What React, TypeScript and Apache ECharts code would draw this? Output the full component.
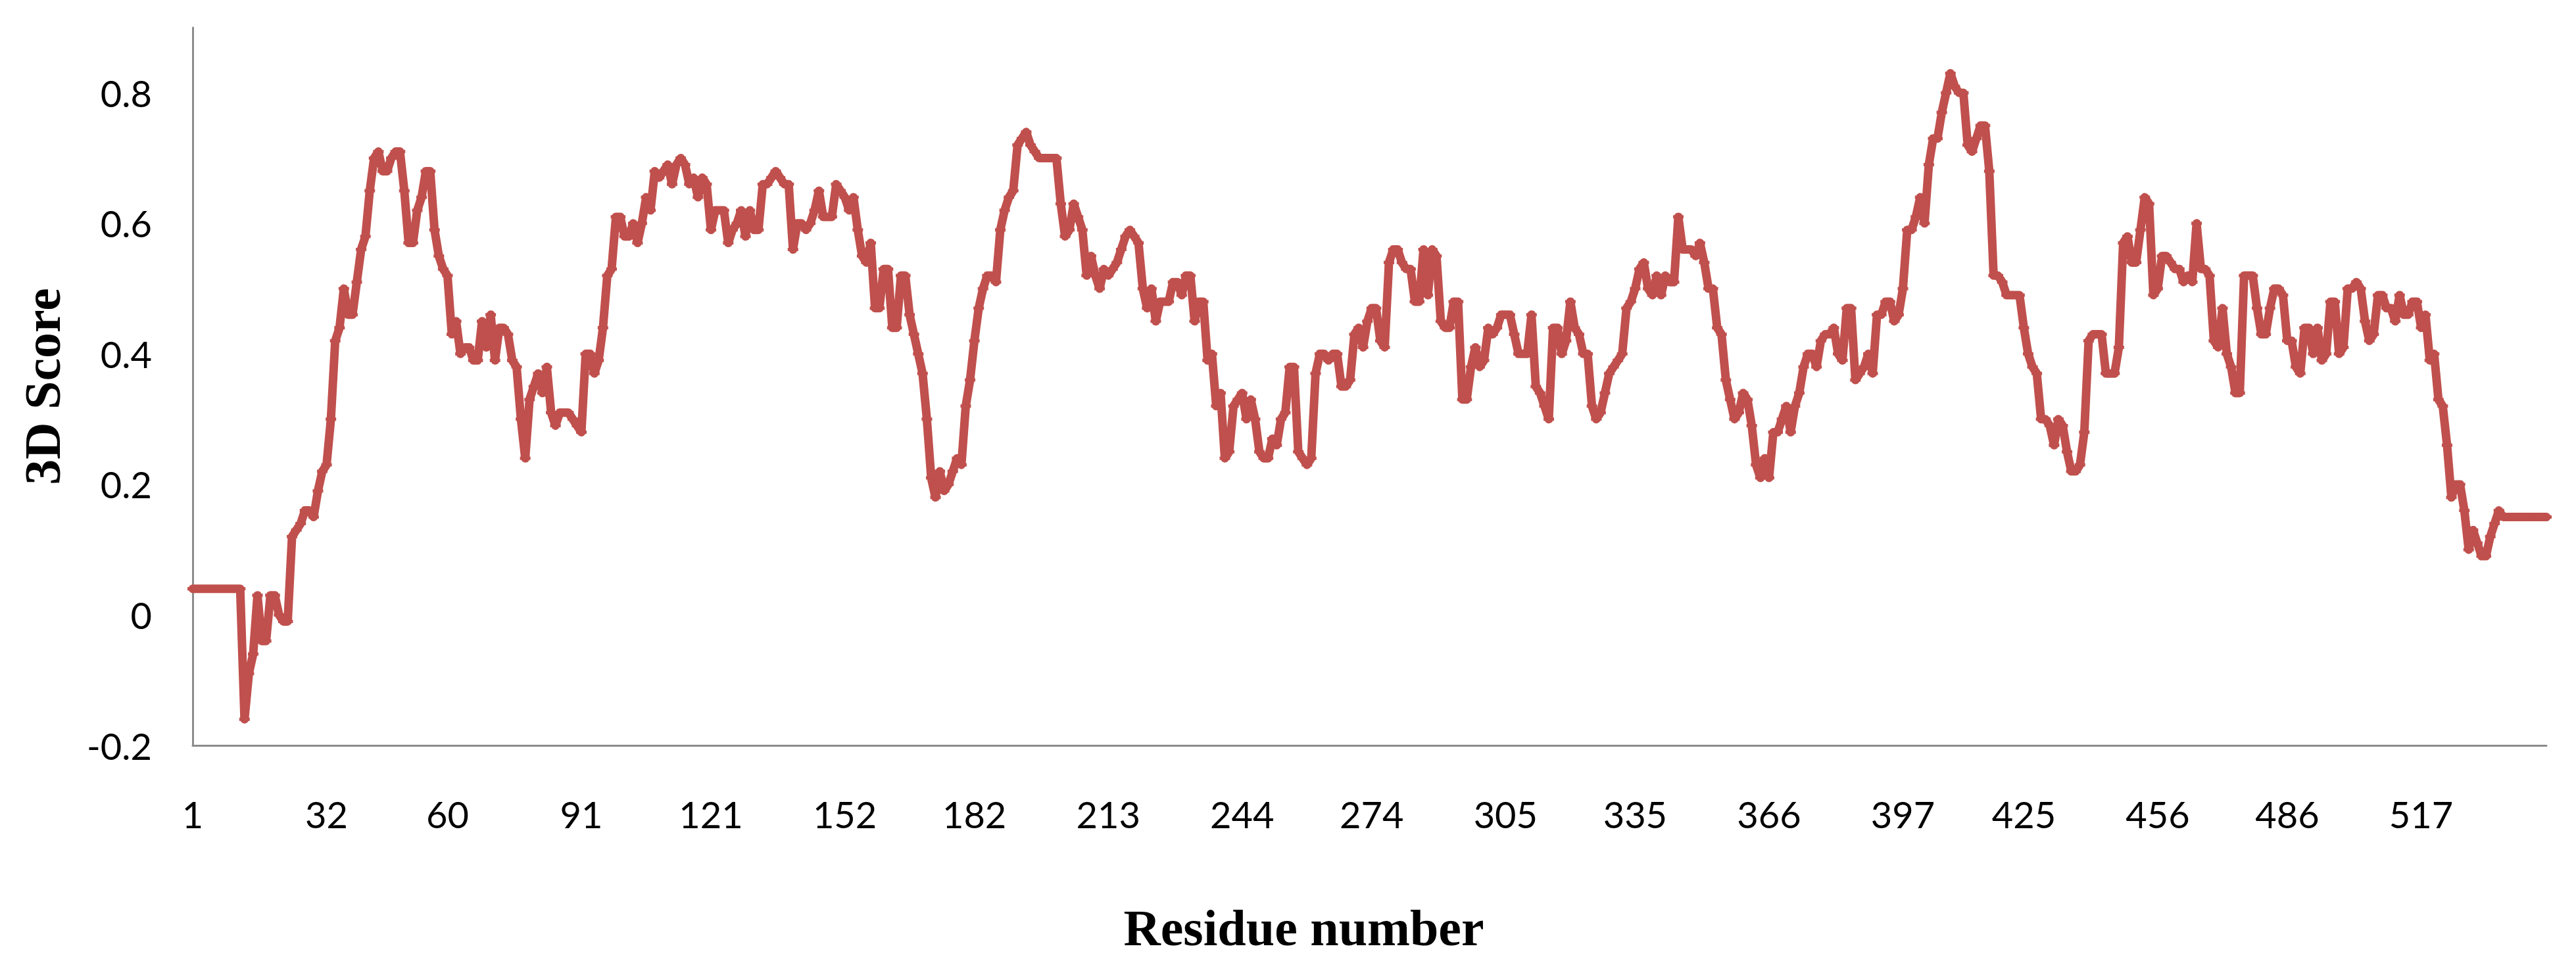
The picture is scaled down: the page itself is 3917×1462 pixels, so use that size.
import React, { useEffect, useRef } from "react";
import * as echarts from "echarts";

// 3D score per residue (residues 1..546)
const scores001to100 = [
  0.04, 0.04, 0.04, 0.04, 0.04, 0.04, 0.04, 0.04, 0.04, 0.04,
  0.04, 0.04, -0.16, -0.09, -0.06, 0.03, -0.04, -0.04, 0.03, 0.03,
  0.0, -0.01, -0.01, 0.12, 0.13, 0.14, 0.16, 0.16, 0.15, 0.19,
  0.22, 0.23, 0.3, 0.42, 0.44, 0.5, 0.46, 0.46, 0.51, 0.56,
  0.58, 0.65, 0.7, 0.71, 0.68, 0.68, 0.7, 0.71, 0.71, 0.65,
  0.57, 0.57, 0.62, 0.64, 0.68, 0.68, 0.59, 0.55, 0.53, 0.52,
  0.43, 0.45, 0.4, 0.41, 0.41, 0.39, 0.39, 0.45, 0.41, 0.46,
  0.39, 0.44, 0.44, 0.43, 0.39, 0.38, 0.3, 0.24, 0.33, 0.35,
  0.37, 0.34, 0.38, 0.31, 0.29, 0.31, 0.31, 0.31, 0.3, 0.29,
  0.28, 0.4, 0.4, 0.37, 0.39, 0.44, 0.52, 0.53, 0.61, 0.61,
];
const scores101to200 = [
  0.58, 0.58, 0.6, 0.57, 0.6, 0.64, 0.62, 0.68, 0.67, 0.68,
  0.69, 0.66, 0.69, 0.7, 0.69, 0.66, 0.67, 0.64, 0.67, 0.66,
  0.59, 0.62, 0.62, 0.62, 0.57, 0.59, 0.6, 0.62, 0.58, 0.62,
  0.59, 0.59, 0.66, 0.66, 0.67, 0.68, 0.67, 0.66, 0.66, 0.56,
  0.6, 0.6, 0.59, 0.6, 0.62, 0.65, 0.61, 0.61, 0.61, 0.66,
  0.65, 0.64, 0.62, 0.64, 0.59, 0.55, 0.54, 0.57, 0.47, 0.47,
  0.53, 0.53, 0.44, 0.44, 0.52, 0.52, 0.46, 0.43, 0.4, 0.37,
  0.3, 0.21, 0.18, 0.22, 0.19, 0.2, 0.22, 0.24, 0.23, 0.32,
  0.36, 0.42, 0.47, 0.5, 0.52, 0.52, 0.51, 0.59, 0.62, 0.64,
  0.65, 0.72, 0.73, 0.74, 0.72, 0.71, 0.7, 0.7, 0.7, 0.7,
];
const scores201to300 = [
  0.7, 0.63, 0.58, 0.59, 0.63, 0.61, 0.59, 0.52, 0.55, 0.52,
  0.5, 0.53, 0.52, 0.53, 0.54, 0.56, 0.58, 0.59, 0.58, 0.57,
  0.5, 0.47, 0.5, 0.45, 0.48, 0.48, 0.48, 0.51, 0.51, 0.49,
  0.52, 0.52, 0.45, 0.48, 0.48, 0.39, 0.4, 0.32, 0.34, 0.24,
  0.25, 0.32, 0.33, 0.34, 0.3, 0.33, 0.3, 0.25, 0.24, 0.24,
  0.27, 0.26, 0.3, 0.31, 0.38, 0.38, 0.25, 0.24, 0.23, 0.24,
  0.37, 0.4, 0.4, 0.39, 0.4, 0.4, 0.35, 0.35, 0.36, 0.43,
  0.44, 0.41, 0.45, 0.47, 0.47, 0.42, 0.41, 0.54, 0.56, 0.56,
  0.54, 0.53, 0.53, 0.48, 0.48, 0.56, 0.49, 0.56, 0.55, 0.45,
  0.44, 0.44, 0.48, 0.48, 0.33, 0.33, 0.38, 0.41, 0.38, 0.39,
];
const scores301to400 = [
  0.44, 0.43, 0.44, 0.46, 0.46, 0.46, 0.43, 0.4, 0.4, 0.4,
  0.46, 0.35, 0.34, 0.32, 0.3, 0.44, 0.44, 0.4, 0.42, 0.48,
  0.44, 0.43, 0.4, 0.4, 0.32, 0.3, 0.31, 0.34, 0.37, 0.38,
  0.39, 0.4, 0.47, 0.48, 0.5, 0.53, 0.54, 0.5, 0.49, 0.52,
  0.49, 0.52, 0.51, 0.51, 0.61, 0.56, 0.56, 0.56, 0.55, 0.57,
  0.54, 0.5, 0.5, 0.44, 0.43, 0.36, 0.33, 0.3, 0.31, 0.34,
  0.33, 0.29, 0.23, 0.21, 0.24, 0.21, 0.28, 0.28, 0.3, 0.32,
  0.28, 0.32, 0.34, 0.38, 0.4, 0.4, 0.38, 0.42, 0.43, 0.43,
  0.44, 0.4, 0.39, 0.47, 0.47, 0.36, 0.37, 0.38, 0.4, 0.37,
  0.46, 0.46, 0.48, 0.48, 0.45, 0.46, 0.5, 0.59, 0.59, 0.61,
];
const scores401to500 = [
  0.64, 0.6, 0.69, 0.73, 0.73, 0.77, 0.8, 0.83, 0.81, 0.8,
  0.8, 0.72, 0.71, 0.73, 0.75, 0.75, 0.68, 0.52, 0.52, 0.51,
  0.49, 0.49, 0.49, 0.49, 0.44, 0.4, 0.38, 0.37, 0.3, 0.3,
  0.29, 0.26, 0.3, 0.29, 0.25, 0.22, 0.22, 0.23, 0.28, 0.42,
  0.43, 0.43, 0.43, 0.37, 0.37, 0.37, 0.41, 0.57, 0.58, 0.54,
  0.54, 0.59, 0.64, 0.63, 0.49, 0.5, 0.55, 0.55, 0.54, 0.53,
  0.53, 0.51, 0.52, 0.51, 0.6, 0.53, 0.53, 0.52, 0.42, 0.41,
  0.47, 0.4, 0.38, 0.34, 0.34, 0.52, 0.52, 0.52, 0.47, 0.43,
  0.43, 0.47, 0.5, 0.5, 0.49, 0.42, 0.42, 0.38, 0.37, 0.44,
  0.44, 0.4, 0.44, 0.39, 0.4, 0.48, 0.48, 0.4, 0.41, 0.5,
];
const scores501to546 = [
  0.5, 0.51, 0.5, 0.45, 0.42, 0.43, 0.49, 0.49, 0.47, 0.47,
  0.45, 0.49, 0.46, 0.46, 0.48, 0.48, 0.44, 0.46, 0.39, 0.4,
  0.33, 0.32, 0.26, 0.18, 0.2, 0.2, 0.16, 0.1, 0.13, 0.11,
  0.09, 0.09, 0.12, 0.14, 0.16, 0.15, 0.15, 0.15, 0.15, 0.15,
  0.15, 0.15, 0.15, 0.15, 0.15, 0.15,
];

// residue numbers shown as tick labels on the x axis
const xTickLabels = ["1", "32", "60", "91", "121", "152", "182", "213", "244", "274", "305", "335", "366", "397", "425", "456", "486", "517"];

const xTitle = "Residue number";
const yTitle = "3D Score";

export default function App() {
  const ref = useRef<HTMLDivElement>(null);

  useEffect(() => {
    if (!ref.current) return;
    const chart = echarts.init(ref.current, undefined, { renderer: "svg" });
    const scores = [
      ...scores001to100,
      ...scores101to200,
      ...scores201to300,
      ...scores301to400,
      ...scores401to500,
      ...scores501to546,
    ];
    const residues = scores.map((_, i) => String(i + 1));
    const labelSet = new Set(xTickLabels);

    chart.setOption({
      animation: false,
      backgroundColor: "#ffffff",
      grid: { left: 293, right: 45, top: 42, bottom: 328, containLabel: false },
      xAxis: {
        type: "category",
        data: residues,
        boundaryGap: false,
        name: xTitle,
        nameLocation: "middle",
        nameGap: 238,
        nameTextStyle: {
          fontFamily: "Liberation Serif",
          fontWeight: "bold",
          fontSize: 78,
          color: "#000",
          padding: [0, 200, 0, 0],
        },
        axisLine: { show: true, onZero: false, lineStyle: { color: "#8c8c8c", width: 3 } },
        axisTick: { show: false },
        splitLine: { show: false },
        axisLabel: {
          interval: (_index: number, value: string) => labelSet.has(value),
          fontFamily: "Lato",
          fontSize: 56,
          color: "#000",
          margin: 76,
        },
      },
      yAxis: {
        type: "value",
        min: -0.2,
        max: 0.9,
        interval: 0.2,
        name: yTitle,
        nameLocation: "middle",
        nameRotate: 90,
        nameGap: 190,
        nameTextStyle: {
          fontFamily: "Liberation Serif",
          fontWeight: "bold",
          fontSize: 78,
          color: "#000",
        },
        axisLine: { show: true, lineStyle: { color: "#8c8c8c", width: 3 } },
        axisTick: { show: false },
        splitLine: { show: false },
        axisLabel: {
          showMaxLabel: false,
          fontFamily: "Lato",
          fontSize: 56,
          color: "#000",
          margin: 62,
          formatter: (v: number) => String(Math.round(v * 10) / 10),
        },
      },
      series: [
        {
          type: "line",
          data: scores,
          symbol: "rect",
          symbolSize: [16, 5],
          showAllSymbol: true,
          itemStyle: { color: "#C0504D" },
          lineStyle: { color: "#C0504D", width: 13, join: "round", cap: "round" },
          emphasis: { disabled: true },
        },
      ],
    });
    return () => chart.dispose();
  }, []);

  return (
    <div
      ref={ref}
      style={{ position: "absolute", left: 0, top: 0, width: "3917px", height: "1462px" }}
    />
  );
}
